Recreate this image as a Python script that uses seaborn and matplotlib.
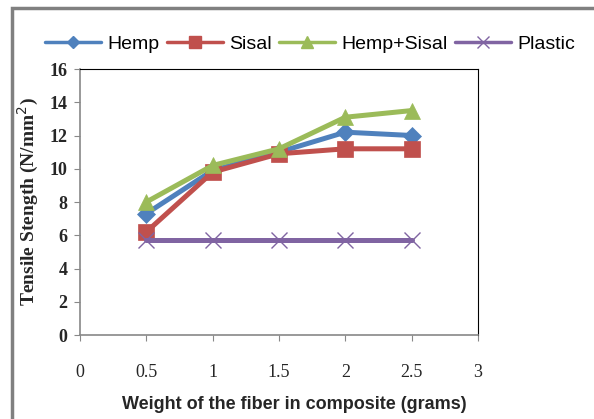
import matplotlib
matplotlib.use("Agg")
import matplotlib.pyplot as plt
import seaborn as sns
import pandas as pd
from matplotlib.patches import Rectangle
from matplotlib.lines import Line2D

weights = [0.5, 1.0, 1.5, 2.0, 2.5]
hemp = [7.3, 9.9, 11.0, 12.2, 12.0]
sisal = [6.2, 9.8, 10.9, 11.2, 11.2]
hemp_sisal = [8.0, 10.2, 11.2, 13.1, 13.5]
plastic = [5.7, 5.7, 5.7, 5.7, 5.7]
series_names = ["Hemp", "Sisal", "Hemp+Sisal", "Plastic"]
x_ticks = [0, 0.5, 1, 1.5, 2, 2.5, 3]
y_ticks = [0, 2, 4, 6, 8, 10, 12, 14, 16]

rows = []
for name, vals in zip(series_names, [hemp, sisal, hemp_sisal, plastic]):
    for w, v in zip(weights, vals):
        rows.append({"Weight": w, "Strength": v, "Series": name})
df = pd.DataFrame(rows)

sns.set_style("white")
fig = plt.figure(figsize=(5.94, 4.19), dpi=100)
ax = fig.add_axes([80/594, 1-335/419, (478-80)/594, (335-69)/419])

palette = {"Hemp": "#4F81BD", "Sisal": "#C0504D", "Hemp+Sisal": "#9BBB59", "Plastic": "#8064A2"}
markers = {"Hemp": "D", "Sisal": "s", "Hemp+Sisal": "^", "Plastic": "x"}
sizes = {"Hemp": 9, "Sisal": 12, "Hemp+Sisal": 12, "Plastic": 12}

for name in series_names:
    sub = df[df["Series"] == name]
    sns.lineplot(data=sub, x="Weight", y="Strength", ax=ax, color=palette[name],
                 marker=markers[name], markersize=sizes[name], linewidth=3.6,
                 markeredgecolor=palette[name],
                 markeredgewidth=1.0 if name == "Plastic" else 0.5,
                 legend=False)

ax.set_xlim(0, 3)
ax.set_ylim(0, 16)
ax.set_xticks(x_ticks)
ax.set_xticklabels([f"{t:g}" for t in x_ticks], fontfamily="Liberation Serif", fontsize=13)
ax.set_yticks(y_ticks)
ax.set_yticklabels([str(t) for t in y_ticks], fontfamily="Liberation Serif", fontsize=13, fontweight="bold")
ax.tick_params(axis="both", which="both", direction="out", length=4, width=0.8, color="#888888",
               bottom=True, left=True, pad=5)
ax.tick_params(axis="x", pad=17)

for s in ["top", "right"]:
    ax.spines[s].set_color("black")
    ax.spines[s].set_linewidth(0.8)
for s in ["left", "bottom"]:
    ax.spines[s].set_color("#888888")
    ax.spines[s].set_linewidth(1.2)

ax.set_xlabel("Weight of the fiber in composite (grams)", fontsize=13, fontweight="bold",
              fontfamily="Liberation Sans", labelpad=8)
ax.xaxis.set_label_coords((294-80)/(478-80), -0.23)
ax.set_ylabel("Tensile Stength (N/mm$^2$)", fontsize=14, fontweight="bold",
              fontfamily="Liberation Serif", labelpad=6)

leg_sizes = {"Hemp": 6, "Sisal": 9, "Hemp+Sisal": 8, "Plastic": 8}
handles = [Line2D([], [], color=palette[n], marker=markers[n], markersize=leg_sizes[n],
                  linewidth=2.5, markeredgecolor=palette[n]) for n in series_names]
fig.legend(handles, series_names, loc="center", bbox_to_anchor=(310/594, 1-44/419), ncol=4,
           frameon=False, handlelength=2.9, columnspacing=0.37, handletextpad=0.32,
           borderaxespad=0, borderpad=0, labelcolor="black",
           prop={"family": "Liberation Sans", "size": 14})

fig.patches.append(Rectangle((12/594, -0.1), 1.2, 1 - 8/419 + 0.1, transform=fig.transFigure,
                             fill=False, edgecolor="#808080", linewidth=2.5))

fig.savefig("out.png", dpi=100)
